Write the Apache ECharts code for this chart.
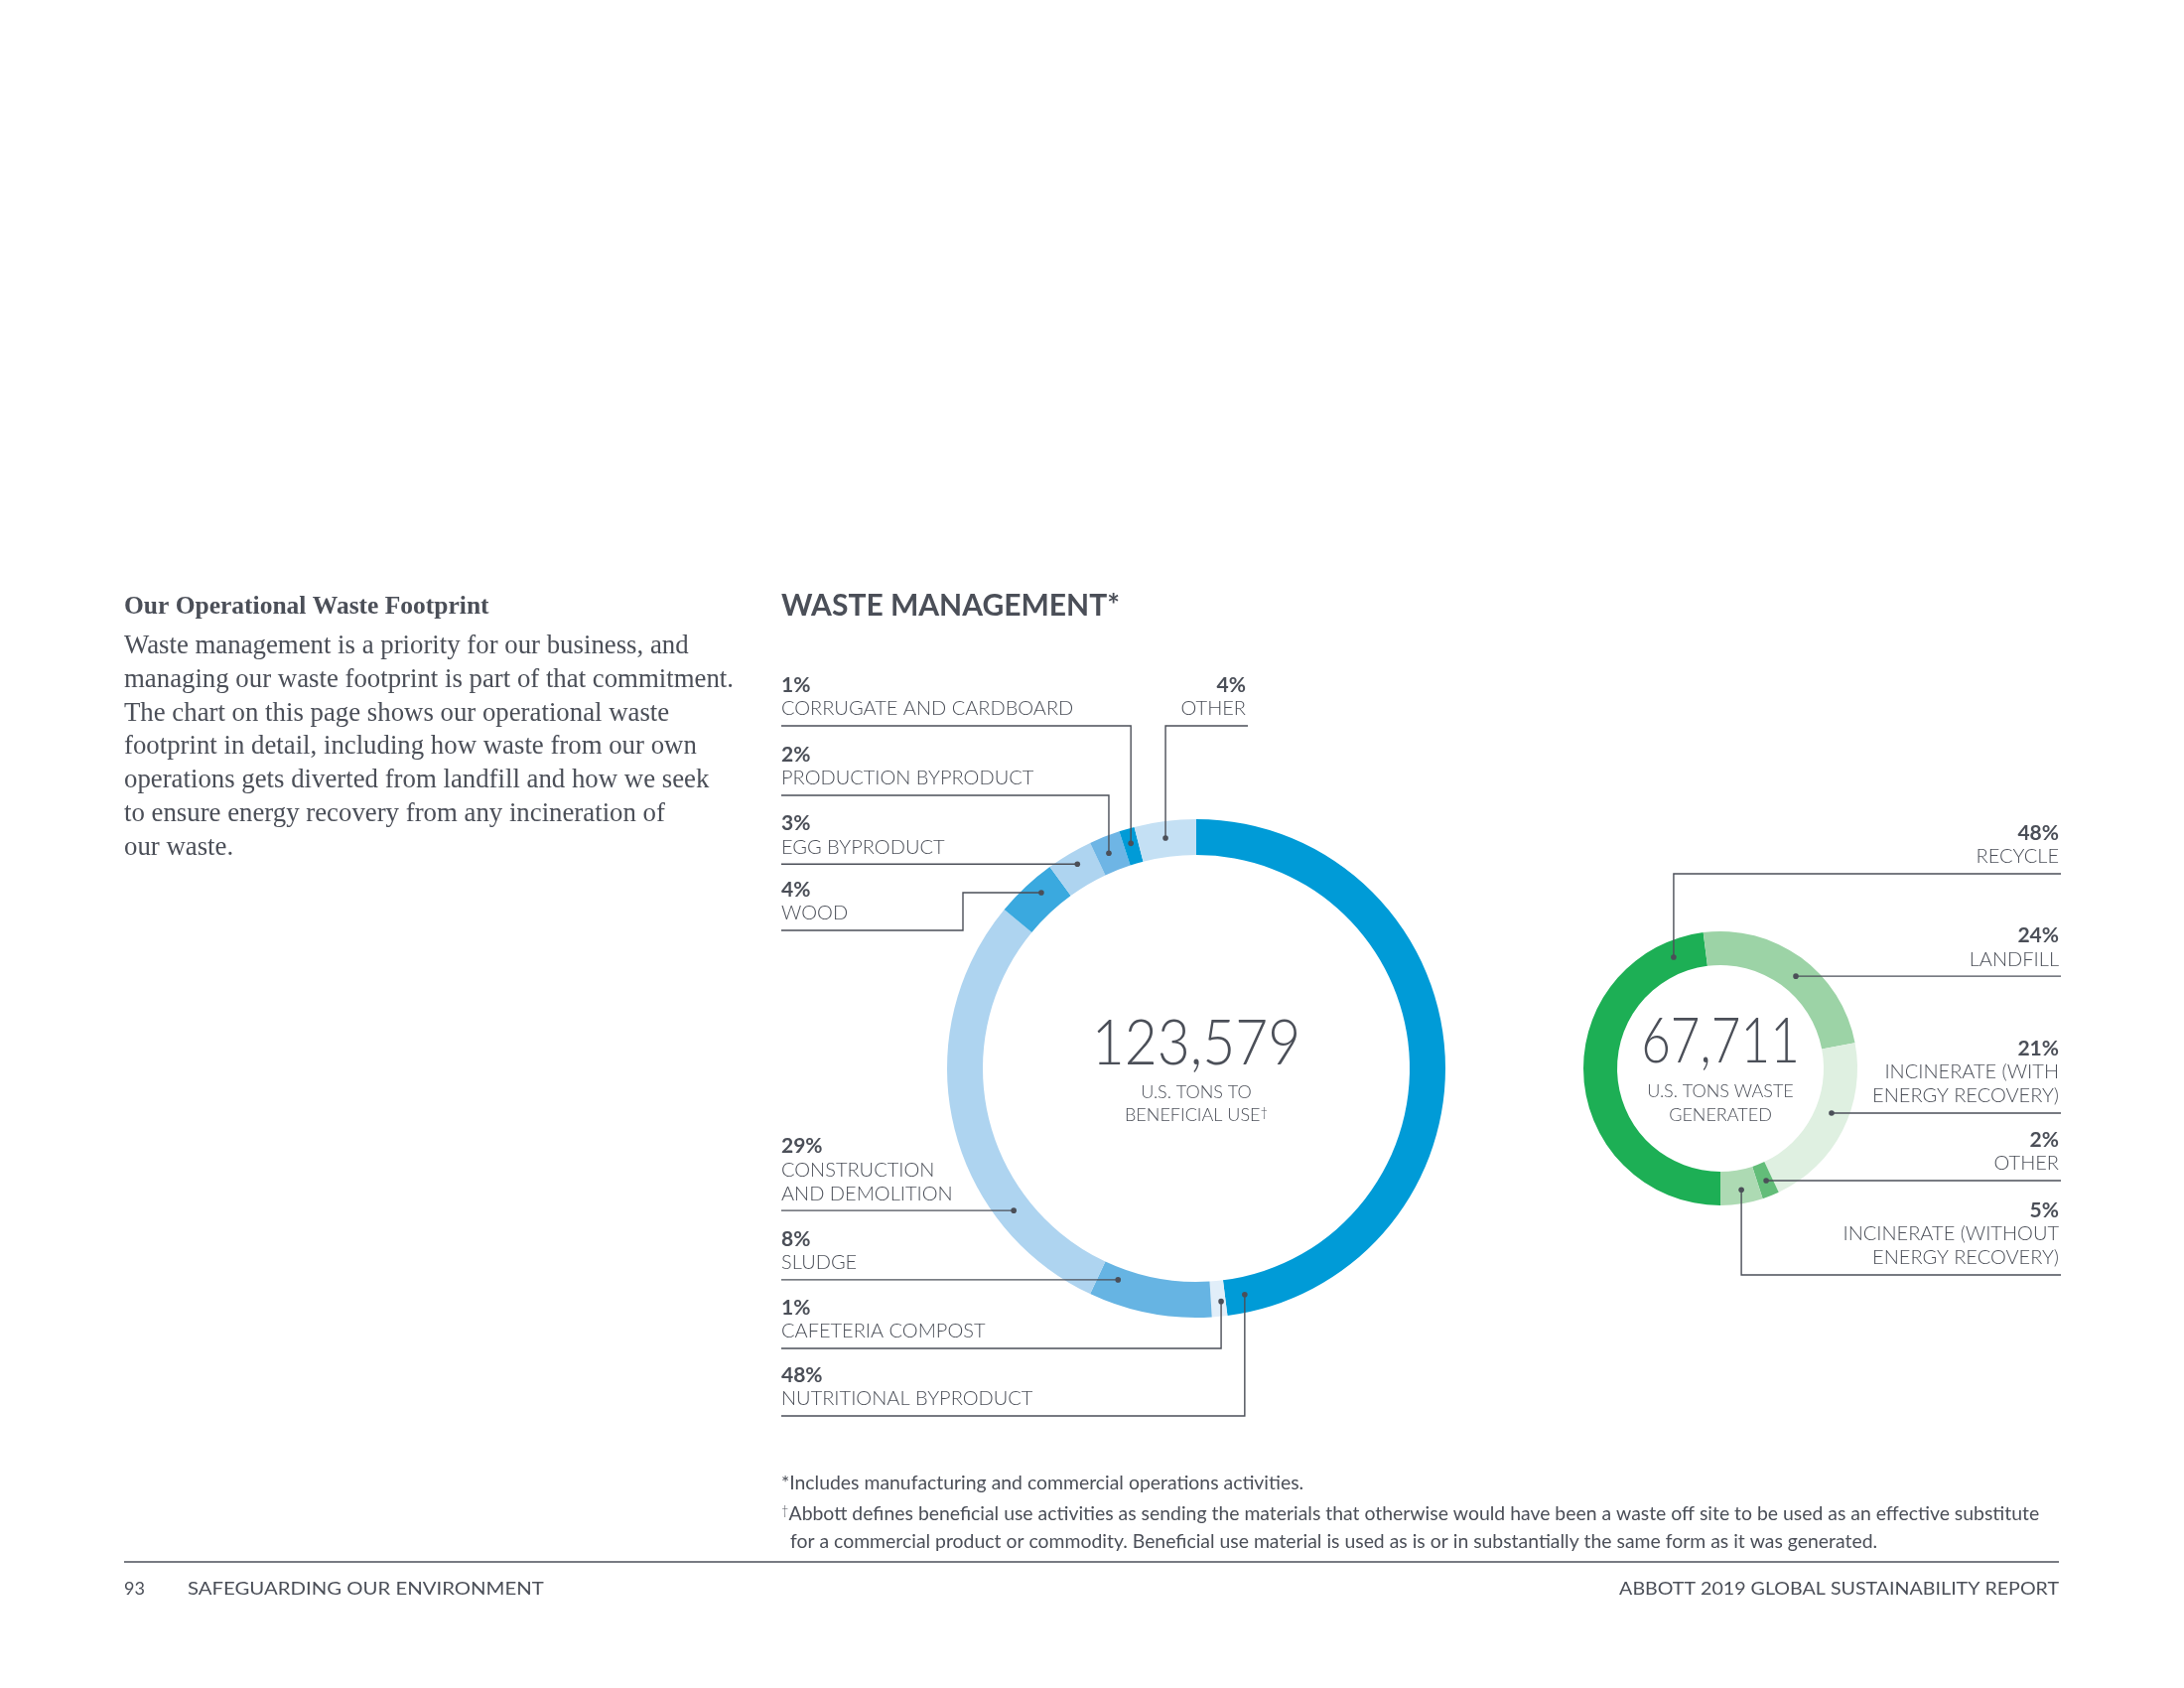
<!DOCTYPE html>
<html><head><meta charset="utf-8">
<script src="https://cdn.jsdelivr.net/npm/echarts@6/dist/echarts.min.js"></script>
<style>html,body{margin:0;padding:0;background:#fff}#c{width:2200px;height:1700px}</style>
</head><body><div id="c"></div>
<script>
// ---------- data ----------
const beneficialTotal = '123,579';
const beneficialNames = ['NUTRITIONAL BYPRODUCT', 'CAFETERIA COMPOST', 'SLUDGE', 'CONSTRUCTION\nAND DEMOLITION', 'WOOD', 'EGG BYPRODUCT', 'PRODUCTION BYPRODUCT', 'CORRUGATE AND CARDBOARD', 'OTHER'];
const beneficialPct = [48, 1, 8, 29, 4, 3, 2, 1, 4];
const wasteTotal = '67,711';
const wasteNames = ['RECYCLE', 'LANDFILL', 'INCINERATE (WITH\nENERGY RECOVERY)', 'OTHER', 'INCINERATE (WITHOUT\nENERGY RECOVERY)'];
const wastePct = [48, 24, 21, 2, 5];

// ---------- layout / style ----------
const INK = '#4b4f58';
const blueColors = ['#009bd7', '#e1eef9', '#66b4e3', '#aed4f0', '#3aa9df', '#aed4f0', '#6eb5e5', '#009bd7', '#c4e0f4'];
const greenColors = ['#1daf55', '#9cd3a6', '#dff0e1', '#63bd79', '#addab3'];
const blueGeo = { cx: 1205, cy: 1076, r: [215, 251], start: 90 };
const greenGeo = { cx: 1733, cy: 1076, r: [104, 138], start: -90 };
// anchor dot: [angle clockwise from 12 o'clock, radius]
const blueAnchors = [[167.9, 233], [173.9, 236], [200.3, 227], [232.1, 233], [318.6, 236], [329.8, 238], [337.9, 234], [343.8, 236], [352.4, 234]];
const blueLeaders = [
  { t: 'v', y: 1426, x: 787, align: 'left' },
  { t: 'v', y: 1358, x: 787, align: 'left' },
  { t: 'h', x: 787, align: 'left' },
  { t: 'h', x: 787, align: 'left' },
  { t: 'hv', bx: 970, y: 937, x: 787, align: 'left' },
  { t: 'h', x: 787, align: 'left' },
  { t: 'v', y: 801, x: 787, align: 'left' },
  { t: 'v', y: 731, x: 787, align: 'left' },
  { t: 'v', y: 731, x: 1257, align: 'right' }
];
const greenAnchors = [[337.2, 121.5], [39.3, 120], [111.9, 120.7], [157.8, 122], [170.2, 124]];
const greenLeaders = [
  { t: 'v', y: 880, x: 2076, align: 'right' },
  { t: 'h', x: 2076, align: 'right' },
  { t: 'h', x: 2076, align: 'right' },
  { t: 'h', x: 2076, align: 'right' },
  { t: 'v', y: 1284, x: 2076, align: 'right' }
];

function anchorPoint(geo, a) {
  const rad = a[0] * Math.PI / 180;
  return [geo.cx + a[1] * Math.sin(rad), geo.cy - a[1] * Math.cos(rad)];
}
function leader(geo, anchors, leaders, i) {
  const d = anchorPoint(geo, anchors[i]);
  const L = leaders[i];
  let pts, lineY;
  if (L.t === 'h') { lineY = d[1]; pts = [d, [L.x, lineY]]; }
  else if (L.t === 'v') { lineY = L.y; pts = [d, [d[0], lineY], [L.x, lineY]]; }
  else { lineY = L.y; pts = [d, [L.bx, d[1]], [L.bx, lineY], [L.x, lineY]]; }
  return { pts, lineY, d };
}

const rich = {
  p: { fontFamily: 'Lato', fontWeight: 'bold', fontSize: 21, lineHeight: 24, color: INK },
  n: { fontFamily: 'Lato', fontWeight: 300, fontSize: 20, lineHeight: 24, color: INK }
};

function pieSeries(names, pcts, colors, geo, anchors, leaders) {
  return {
    type: 'pie',
    center: [geo.cx, geo.cy],
    radius: geo.r,
    startAngle: geo.start,
    clockwise: true,
    avoidLabelOverlap: false,
    silent: true,
    animation: false,
    emphasis: { disabled: true },
    data: names.map((n, i) => ({ name: n, value: pcts[i], itemStyle: { color: colors[i] } })),
    label: {
      show: true,
      position: 'outside',
      formatter: p => '{p|' + pcts[p.dataIndex] + '%}\n{n|' + names[p.dataIndex].split('\n').join('}\n{n|') + '}',
      rich: rich
    },
    labelLine: { show: false },
    labelLayout: function (params) {
      const i = params.dataIndex;
      const g = leader(geo, anchors, leaders, i);
      const L = leaders[i];
      return {
        x: L.align === 'left' ? L.x : L.x - 2,
        y: g.lineY - 5,
        align: L.align,
        verticalAlign: 'bottom'
      };
    }
  };
}

function leaderGraphics(geo, anchors, leaders) {
  const out = [];
  anchors.forEach((a, i) => {
    const g = leader(geo, anchors, leaders, i);
    out.push({ type: 'polyline', silent: true, z: 100, shape: { points: g.pts }, style: { stroke: INK, lineWidth: 1.4, fill: null } });
    out.push({ type: 'circle', silent: true, z: 101, shape: { cx: g.d[0], cy: g.d[1], r: 2.8 }, style: { fill: INK } });
  });
  return out;
}

const bodyLines = [
  'Waste management is a priority for our business, and',
  'managing our waste footprint is part of that commitment.',
  'The chart on this page shows our operational waste',
  'footprint in detail, including how waste from our own',
  'operations gets diverted from landfill and how we seek',
  'to ensure energy recovery from any incineration of',
  'our waste.'
];

function txt(x, y, text, font, extra, el) {
  return Object.assign({ type: 'text', x: x, y: y, silent: true, style: Object.assign({ text: text, font: font, fill: INK, align: 'left', verticalAlign: 'middle' }, extra || {}) }, el || {});
}
const supRich = { s: { fontSize: 13, fontFamily: 'Lato', fontWeight: 300, verticalAlign: 'top', lineHeight: 18, fill: INK } };

const graphics = [].concat(
  leaderGraphics(blueGeo, blueAnchors, blueLeaders),
  leaderGraphics(greenGeo, greenAnchors, greenLeaders),
  [
    txt(125, 611, 'Our Operational Waste Footprint', 'bold 25.5px "Liberation Serif"'),
    txt(125, 634.5, bodyLines.join('\n'), '26.8px "Liberation Serif"', { verticalAlign: 'top', lineHeight: 33.7 }),
    txt(787, 610, 'WASTE MANAGEMENT*', 'bold 30px Lato'),
    txt(blueGeo.cx, 1051, beneficialTotal, '300 64px Lato', { align: 'center' }, { scaleX: 0.89 }),
    txt(blueGeo.cx, 1100, 'U.S. TONS TO', '300 18px Lato', { align: 'center' }),
    txt(blueGeo.cx, 1123, 'BENEFICIAL USE{s|†}', '300 18px Lato', { align: 'center', rich: supRich }),
    txt(greenGeo.cx, 1049, wasteTotal, '300 64px Lato', { align: 'center' }, { scaleX: 0.8 }),
    txt(greenGeo.cx, 1099, 'U.S. TONS WASTE', '300 18px Lato', { align: 'center' }),
    txt(greenGeo.cx, 1123, 'GENERATED', '300 18px Lato', { align: 'center' }),
    txt(787, 1494, '*Includes manufacturing and commercial operations activities.', '19.4px Lato'),
    txt(787, 1525, '{s|†}Abbott defines beneficial use activities as sending the materials that otherwise would have been a waste off site to be used as an effective substitute', '19.4px Lato', { rich: supRich }),
    txt(796, 1553, 'for a commercial product or commodity. Beneficial use material is used as is or in substantially the same form as it was generated.', '19.4px Lato'),
    { type: 'line', silent: true, shape: { x1: 125, y1: 1573, x2: 2074, y2: 1573 }, style: { stroke: INK, lineWidth: 1.5 } },
    txt(125, 1600, '93', '18px Lato'),
    txt(189, 1600, 'SAFEGUARDING OUR ENVIRONMENT', '18px Lato', null, { scaleX: 1.13 }),
    txt(2074, 1600, 'ABBOTT 2019 GLOBAL SUSTAINABILITY REPORT', '18px Lato', { align: 'right' }, { scaleX: 1.09 })
  ]
);

const chart = echarts.init(document.getElementById('c'), null, { renderer: 'canvas' });
chart.setOption({
  backgroundColor: '#ffffff',
  animation: false,
  series: [
    pieSeries(beneficialNames, beneficialPct, blueColors, blueGeo, blueAnchors, blueLeaders),
    pieSeries(wasteNames, wastePct, greenColors, greenGeo, greenAnchors, greenLeaders)
  ],
  graphic: { elements: graphics }
});
</script></body></html>
